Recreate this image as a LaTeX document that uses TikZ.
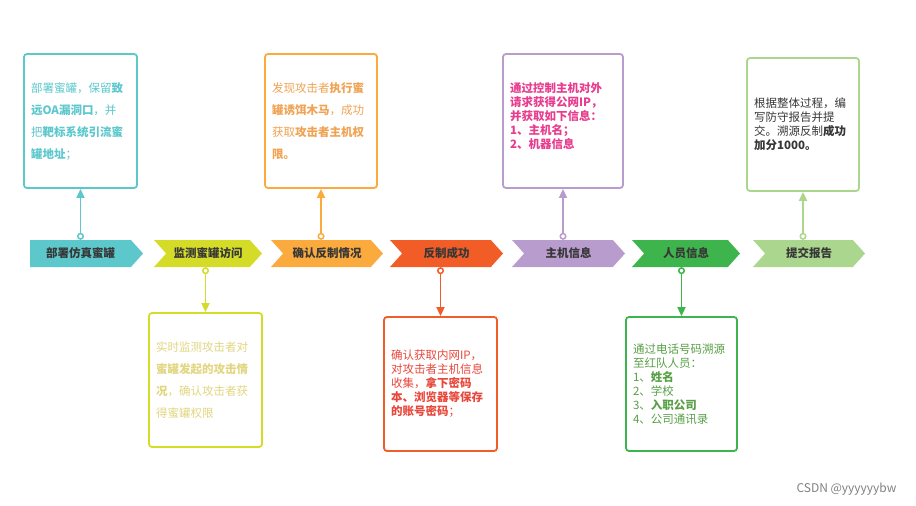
\documentclass[tikz,border=0pt]{standalone}
\usepackage{fontspec}
\setmainfont{Noto Sans CJK SC}
\definecolor{tealc}{RGB}{92, 200, 204}
\definecolor{yelc}{RGB}{212, 220, 40}
\definecolor{yeltxt}{RGB}{226, 214, 128}
\definecolor{orac}{RGB}{251, 170, 62}
\definecolor{oratxt}{RGB}{240, 163, 82}
\definecolor{redc}{RGB}{242, 92, 38}
\definecolor{redtxt}{RGB}{232, 72, 60}
\definecolor{purc}{RGB}{184, 156, 206}
\definecolor{purtxt}{RGB}{232, 60, 142}
\definecolor{grnc}{RGB}{62, 180, 76}
\definecolor{grntxt}{RGB}{88, 160, 70}
\definecolor{lgrc}{RGB}{170, 214, 142}
\definecolor{labelc}{RGB}{55, 55, 55}
\usetikzlibrary{arrows.meta, shapes.symbols}

\begin{document}
\begin{tikzpicture}[x=1pt, y=-1pt,
    stage/.style={signal, signal to=east, signal pointer angle=96, draw=none,
      minimum height=27, inner sep=0, text=labelc,
      font=\bfseries\fontsize{11.5}{14}\selectfont},
    notch/.style={signal from=west},
    infobox/.style={draw=#1, line width=1.8, rounded corners=3, fill=white,
      inner xsep=7, inner ysep=0, align=left},
    loose/.style={font=\fontsize{11.5}{22}\selectfont},
    tight/.style={font=\fontsize{11.5}{14}\selectfont},
    conn/.style={draw=#1, line width=1.8,
      {Circle[open, fill=white, length=7pt, width=7pt, line width=1.5pt]}-{Triangle[length=9pt, width=8pt]}}]
  \useasboundingbox (0,0) rectangle (916,506);

  % Etapas
  \node[stage, fill=tealc, minimum width=113] (c1) at (80.5,253.5) {部署仿真蜜罐};
  \node[stage, notch, fill=yelc, minimum width=108] (c2) at (208,253.5) {监测蜜罐访问};
  \node[stage, notch, fill=orac, minimum width=112] (c3) at (327,253.5) {确认反制情况};
  \node[stage, notch, fill=redc, minimum width=113] (c4) at (446.5,253.5) {反制成功};
  \node[stage, notch, fill=purc, minimum width=113] (c5) at (568.5,253.5) {主机信息};
  \node[stage, notch, fill=grnc, minimum width=108] (c6) at (686,253.5) {人员信息};
  \node[stage, notch, fill=lgrc, minimum width=112] (c7) at (809,253.5) {提交报告};

  % Caixas de cima
  \node[infobox=tealc, loose, text=tealc, text width=99, minimum height=134] (t1) at (80.5,121)
    {部署蜜罐，保留\textbf{致}\\\textbf{远OA漏洞口}，并\\把\textbf{靶标系统引流蜜}\\\textbf{罐地址}；};
  \node[infobox=orac, loose, text=oratxt, text width=98, minimum height=134] (t2) at (321,121)
    {发现攻击者\textbf{执行蜜}\\\textbf{罐诱饵木马}，成功\\获取\textbf{攻击者主机权}\\\textbf{限。}};
  \node[infobox=purc, tight, text=purtxt, text width=106, minimum height=134] (t3) at (563,121)
    {\textbf{通过控制主机对外}\\\textbf{请求获得公网IP，}\\\textbf{并获取如下信息：}\\\textbf{1、主机名；}\\\textbf{2、机器信息}\\[-3pt]\mbox{}};
  \node[infobox=lgrc, tight, text=labelc, text width=98, minimum height=133] (t4) at (803,124.5)
    {根据整体过程，编\\写防守报告并提\\交。溯源反制\textbf{成功}\\\textbf{加分1000。}};

  % Caixas de baixo
  \node[infobox=yelc, loose, text=yeltxt, text width=99, minimum height=134] (b1) at (205.5,380)
    {实时监测攻击者对\\\textbf{蜜罐发起的攻击情}\\\textbf{况}，确认攻击者获\\得蜜罐权限};
  \node[infobox=redc, tight, text=redtxt, text width=99, minimum height=134] (b2) at (440.5,384)
    {确认获取内网IP，\\对攻击者主机信息\\收集，\textbf{拿下密码}\\\textbf{本、浏览器等保存}\\\textbf{的账号密码}；};
  \node[infobox=grnc, tight, text=grntxt, text width=97, minimum height=134] (b3) at (681.5,384)
    {通过电话号码溯源\\至红队人员：\\1、\textbf{姓名}\\2、学校\\3、\textbf{入职公司}\\4、公司通讯录};

  % Ligacoes
  \draw[conn=tealc] (t1.south |- c1.north) -- (t1.south);
  \draw[conn=yelc] (b1.north |- c2.south) -- (b1.north);
  \draw[conn=orac] (t2.south |- c3.north) -- (t2.south);
  \draw[conn=redc] (b2.north |- c4.south) -- (b2.north);
  \draw[conn=purc] (t3.south |- c5.north) -- (t3.south);
  \draw[conn=grnc] (b3.north |- c6.south) -- (b3.north);
  \draw[conn=lgrc] (t4.south |- c7.north) -- (t4.south);

  \node[anchor=east, text=gray, font=\fontsize{12}{14}\selectfont] (mark) at (900,489) {CSDN @yyyyyybw};
\end{tikzpicture}
\end{document}
